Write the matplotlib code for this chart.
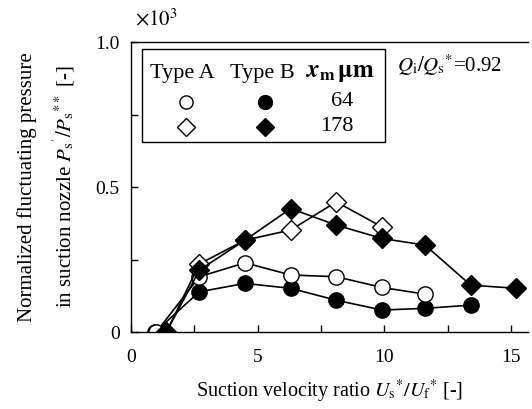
import numpy as np
import matplotlib.pyplot as plt
from matplotlib.patches import Rectangle

plt.rcParams['font.family'] = ['Liberation Serif', 'DejaVu Serif']
plt.rcParams['mathtext.fontset'] = 'stix'

# Datos (y en unidades x10^3)
x_a64 = np.array([1.0, 2.7, 4.5, 6.3, 8.1, 9.9, 11.6])
y_a64 = np.array([0.0, 0.191, 0.239, 0.197, 0.191, 0.154, 0.131])

x_b64 = np.array([0.95, 2.7, 4.5, 6.3, 8.1, 9.9, 11.6, 13.4])
y_b64 = np.array([0.0, 0.139, 0.168, 0.151, 0.110, 0.076, 0.082, 0.093])

x_a178 = np.array([1.4, 2.7, 4.5, 6.3, 8.1, 9.9])
y_a178 = np.array([0.0, 0.235, 0.317, 0.352, 0.449, 0.363])

x_b178 = np.array([1.4, 2.7, 4.5, 6.3, 8.1, 9.9, 11.6, 13.4, 15.2])
y_b178 = np.array([0.0, 0.214, 0.317, 0.426, 0.369, 0.323, 0.300, 0.162, 0.151])

fig = plt.figure(figsize=(5.32, 4.09), dpi=100)
ax = fig.add_axes([0.246, 0.188, 0.746, 0.709])

kw = dict(color='black', lw=1.2, markeredgecolor='black', markeredgewidth=1.0)
ax.plot(x_b64, y_b64, 'o', ms=11, markerfacecolor='black', ls='-', **kw)
ax.plot(x_a64, y_a64, 'o', ms=11, markerfacecolor='white', ls='-', **kw)
ax.plot(x_a178, y_a178, 'D', ms=10, markerfacecolor='white', ls='-', **kw)
ax.plot(x_b178, y_b178, 'D', ms=10, markerfacecolor='black', ls='-', **kw)

ax.set_xlim(0, 15.65)
ax.set_ylim(0, 1.0)
ax.set_xticks([0, 5, 10, 15])
ax.set_xticks([2.5, 7.5, 12.5], minor=True)
ax.set_yticks([0, 0.5, 1.0])
ax.set_yticklabels(['0', '0.5', '1.0'])
ax.set_yticks([0.25, 0.75], minor=True)
ax.tick_params(which='both', direction='in', length=5, width=1, labelsize=14)
ax.tick_params(axis='x', pad=12)
ax.tick_params(axis='y', pad=8)
ax.spines['right'].set_visible(False)
for s in ['left', 'bottom', 'top']:
    ax.spines[s].set_linewidth(1.0)

ax.set_xlabel(r"Suction velocity ratio $U_{\rm s}{}^{*}/U_{\rm f}{}^{*}$ [-]", fontsize=14.5, labelpad=9)
ax.set_ylabel("Normalized fluctuating pressure\n" + r"in suction nozzle $P_{\rm s}{}^{'}/P_{\rm s}{}^{**}$ [-]",
              fontsize=15, labelpad=13, linespacing=1.65)

ax.text(0.01, 1.04, r"$\times 10^3$", transform=ax.transAxes, fontsize=15, ha='left', va='bottom')
ax.text(0.67, 0.92, r"$Q_{\rm i}/Q_{\rm s}{}^{*}$=0.92", transform=ax.transAxes, fontsize=15,
        ha='left', va='center')

# leyenda tipo tabla
ax.add_patch(Rectangle((0.027, 0.656), 0.613, 0.319, transform=ax.transAxes,
                       facecolor='white', edgecolor='black', lw=1.0, zorder=5))
ax.text(0.130, 0.892, "Type A", transform=ax.transAxes, fontsize=16, ha='center', va='center', zorder=6)
ax.text(0.332, 0.892, "Type B", transform=ax.transAxes, fontsize=16, ha='center', va='center', zorder=6)
ax.text(0.528, 0.892, r"$\boldsymbol{x}_{\mathbf{m}}\,\mathbf{\mu m}$", transform=ax.transAxes,
        fontsize=18, ha='center', va='center', zorder=6)
ax.plot([0.140], [0.794], 'o', ms=9.5, mfc='white', mec='black', transform=ax.transAxes, zorder=6, clip_on=False)
ax.plot([0.338], [0.794], 'o', ms=10, mfc='black', mec='black', transform=ax.transAxes, zorder=6, clip_on=False)
ax.plot([0.140], [0.708], 'D', ms=9, mfc='white', mec='black', transform=ax.transAxes, zorder=6, clip_on=False)
ax.plot([0.338], [0.708], 'D', ms=9.5, mfc='black', mec='black', transform=ax.transAxes, zorder=6, clip_on=False)
ax.text(0.560, 0.794, "64", transform=ax.transAxes, fontsize=16, ha='right', va='center', zorder=6)
ax.text(0.560, 0.708, "178", transform=ax.transAxes, fontsize=16, ha='right', va='center', zorder=6)

fig.savefig('out.png', dpi=100)
